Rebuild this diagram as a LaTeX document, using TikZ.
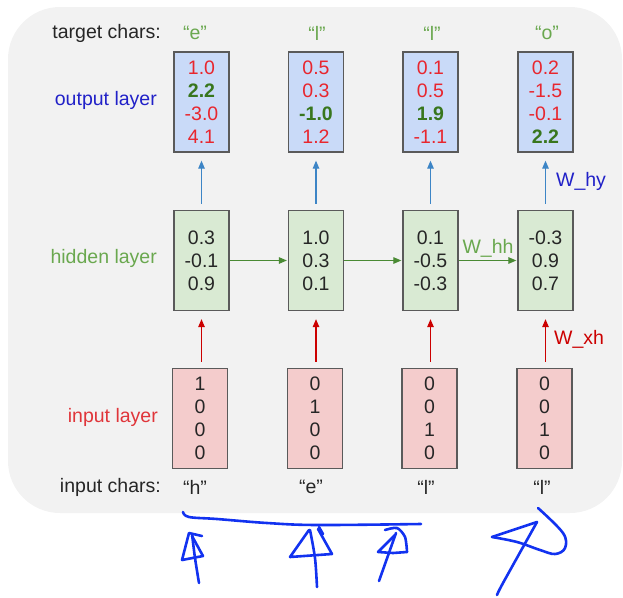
\documentclass[tikz,border=0pt]{standalone}
\usepackage{fontspec}
\setmainfont{Liberation Sans}
\usetikzlibrary{arrows.meta}
\definecolor{bgc}{HTML}{F2F2F2}
\definecolor{boxline}{HTML}{5A5A5A}
\definecolor{outfill}{HTML}{C9DAF8}
\definecolor{hidfill}{HTML}{D9EAD3}
\definecolor{infill}{HTML}{F4CCCC}
\definecolor{numred}{HTML}{E8262E}
\definecolor{numgreen}{HTML}{38761D}
\definecolor{txtdark}{HTML}{262626}
\definecolor{lblgreen}{HTML}{6AA84F}
\definecolor{lblblue}{HTML}{2121C8}
\definecolor{lblred}{HTML}{E0353A}
\definecolor{arrblue}{HTML}{3D85C6}
\definecolor{arrgreen}{HTML}{4A8A34}
\definecolor{arrred}{HTML}{CC0000}
\definecolor{ink}{HTML}{1232F0}
\newcommand\rednum[1]{\textcolor{numred}{#1}}
\newcommand\grnnum[1]{\textcolor{numgreen}{\textbf{#1}}}
\begin{document}
\begin{tikzpicture}[x=1pt,y=-1pt,
  font=\fontsize{19.5}{23}\selectfont,
  vecbox/.style={draw=boxline, line width=1.3pt, minimum width=55pt, minimum height=100pt,
    inner sep=0pt, align=center, text=txtdark},
  outbox/.style={vecbox, fill=outfill},
  hidbox/.style={vecbox, fill=hidfill},
  inbox/.style={vecbox, fill=infill},
  rowlbl/.style={anchor=east, inner sep=0pt},
  charlbl/.style={inner sep=0pt},
  tipstyle/.style={-{Triangle[length=8pt,width=6.5pt]}, line width=1.2pt},
  yarrow/.style={tipstyle, draw=arrblue, shorten <=6pt, shorten >=8pt},
  xarrow/.style={tipstyle, draw=arrred, shorten <=6pt, shorten >=8pt},
  harrow/.style={tipstyle, draw=arrgreen, shorten >=1pt},
  handink/.style={draw=ink, line width=2.6pt, line cap=round, line join=round}
]
\useasboundingbox (0,0) rectangle (623,597);
\fill[bgc, rounded corners=52pt] (8,7) rectangle (622,513);

% row labels
\node[rowlbl, text=txtdark] (tcl) at (161,33) {target chars:};
\node[rowlbl, text=lblblue] (oll) at (157,100) {output layer};
\node[rowlbl, text=lblgreen] (hll) at (157,258) {hidden layer};
\node[rowlbl, text=lblred] (ill) at (158,417) {input layer};
\node[rowlbl, text=txtdark] (icl) at (161,487) {input chars:};

% target chars
\node[charlbl, text=lblgreen] (t1) at (195,33) {“e”};
\node[charlbl, text=lblgreen] (t2) at (317,33) {“l”};
\node[charlbl, text=lblgreen] (t3) at (432,33) {“l”};
\node[charlbl, text=lblgreen] (t4) at (547,33) {“o”};

% output boxes
\node[outbox] (o1) at (201.5,102) {\rednum{1.0}\\\grnnum{2.2}\\\rednum{-3.0}\\\rednum{4.1}};
\node[outbox] (o2) at (316,102) {\rednum{0.5}\\\rednum{0.3}\\\grnnum{-1.0}\\\rednum{1.2}};
\node[outbox] (o3) at (430.5,102) {\rednum{0.1}\\\rednum{0.5}\\\grnnum{1.9}\\\rednum{-1.1}};
\node[outbox] (o4) at (545.5,102) {\rednum{0.2}\\\rednum{-1.5}\\\rednum{-0.1}\\\grnnum{2.2}};

% hidden boxes
\node[hidbox] (h1) at (201.5,260.5) {0.3\\-0.1\\0.9};
\node[hidbox] (h2) at (316,260.5) {1.0\\0.3\\0.1};
\node[hidbox] (h3) at (430.5,260.5) {0.1\\-0.5\\-0.3};
\node[hidbox] (h4) at (545.5,260.5) {-0.3\\0.9\\0.7};

% input boxes
\node[inbox] (i1) at (200,418.5) {1\\0\\0\\0};
\node[inbox] (i2) at (315,418.5) {0\\1\\0\\0};
\node[inbox] (i3) at (429.5,418.5) {0\\0\\1\\0};
\node[inbox] (i4) at (544.5,418.5) {0\\0\\1\\0};

% input chars
\node[charlbl, text=txtdark] (c1) at (195,487) {“h”};
\node[charlbl, text=txtdark] (c2) at (311,487) {“e”};
\node[charlbl, text=txtdark] (c3) at (426,487) {“l”};
\node[charlbl, text=txtdark] (c4) at (542,487) {“l”};

% hidden -> output
\draw[yarrow] (h1) -- (o1);
\draw[yarrow] (h2) -- (o2);
\draw[yarrow] (h3) -- (o3);
\draw[yarrow] (h4) -- (o4) node[midway, right=10pt, inner sep=0pt, text=lblblue] (why) {W\_hy};

% input -> hidden
\draw[xarrow] (i1.north -| h1) -- (h1);
\draw[xarrow] (i2.north -| h2) -- (h2);
\draw[xarrow] (i3.north -| h3) -- (h3);
\draw[xarrow] (i4.north -| h4) -- (h4) node[midway, right=8pt, inner sep=0pt, text=arrred] (wxh) {W\_xh};

% hidden -> hidden
\draw[harrow] (h1) -- (h2);
\draw[harrow] (h2) -- (h3);
\draw[harrow] (h3) -- (h4) node[midway, above=3pt, inner sep=0pt, text=lblgreen] (whh) {W\_hh};

% hand-drawn annotations
\draw[handink] plot[smooth, tension=0.6] coordinates {(183,512) (189,517) (217,519) (267,523) (317,525) (421,524)};
\draw[handink] plot[smooth, tension=0.5] coordinates {(199,583) (195,558) (192,534)};
\draw[handink] (202,536) -- (189,533) -- (182,560) -- (203,556) -- (192,536);
\draw[handink] plot[smooth, tension=0.5] coordinates {(317,587) (315,558) (310,530)};
\draw[handink] (319,527) -- (323,534);
\draw[handink] (309,530) -- (290,557) -- (332,554) -- (318,529);
\draw[handink] (379,581) -- (396,533);
\draw[handink] plot[smooth, tension=0.5] coordinates {(385,530) (397,528) (405,537) (407,552)};
\draw[handink] (407,552) -- (393,553) -- (378,552) -- (395,535);
\draw[handink] plot[smooth, tension=0.5] coordinates {(497,595) (503,583) (537,522)};
\draw[handink] (537,522) -- (492,537);
\draw[handink] plot[smooth, tension=0.6] coordinates {(492,537) (517,542) (540,550) (555,554) (565,548) (563,533) (538,508)};
\end{tikzpicture}
\end{document}
